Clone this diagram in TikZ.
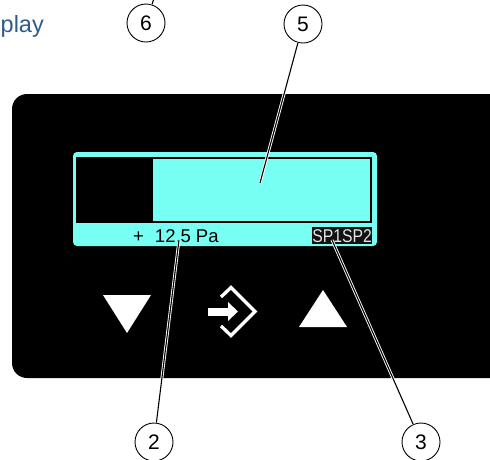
\documentclass[tikz,border=0pt]{standalone}
\usepackage{fontspec}
\setmainfont{Liberation Sans}
\definecolor{lcd}{RGB}{118,255,242}
\definecolor{titleblue}{RGB}{46,92,140}
\definecolor{spgrey}{RGB}{228,228,228}
\begin{document}
\begin{tikzpicture}[x=1pt,y=-1pt,
  callout/.style={circle,draw=black,fill=white,line width=0.9pt,minimum size=38pt,inner sep=0pt,font=\fontsize{21}{21}\selectfont},
  leader/.style={draw=white,double=black,line width=0.9pt,double distance=1.1pt},
  keyshape/.style={fill=white},
  lcdtext/.style={inner sep=0pt,font=\fontsize{18.5}{18.5}\selectfont}]
\useasboundingbox (0,0) rectangle (490,459);
\clip (0,0) rectangle (490,459);
% title fragment
\node[anchor=base west,inner sep=0pt,text=titleblue,font=\fontsize{23.5}{23.5}\selectfont] (title) at (0.5,32) {play};
% panel
\fill[black,rounded corners=15pt] (12,94) rectangle (520,378);
% display
\fill[lcd,rounded corners=4pt] (73,152) rectangle (377,246);
\fill[black] (76,157) rectangle (372,223);
\fill[lcd] (153,159) rectangle (370,221);
\node[lcdtext,anchor=base west] (val) at (133,242.5) {+\hspace{11pt}12.5\hspace{5pt}Pa};
\node[fill=black!93,inner sep=0pt,minimum width=60pt,minimum height=17pt,anchor=north west] (spbox) at (312,227) {};
\node[lcdtext,text=spgrey,xscale=0.85] (sp) at (spbox.center) {SP1SP2};
% keys
\fill[keyshape] (103,295) -- (151,295) -- (127,333) -- cycle;
\fill[keyshape] (299,327) -- (347,327) -- (323,290) -- cycle;
\fill[keyshape] (208,307.5) rectangle (229,315.5);
\fill[keyshape] (228,302) -- (238,311.5) -- (228,321) -- cycle;
\draw[white,line width=3.3pt,miter limit=10] (221,297) -- (231,287.5) -- (255,311.5) -- (231,335.5) -- (221,326);
% callouts
\node[callout] (c6) at (146,23) {6};
\node[callout] (c5) at (303,24) {5};
\node[callout] (c2) at (154,442) {2};
\node[callout] (c3) at (421,442) {3};
\coordinate (p6) at (158,-14);
\coordinate (p5) at (260,183);
\coordinate (p2) at (179,240);
\coordinate (p3) at (332,240);
\draw[leader] (c6) -- (p6);
\draw[leader] (c5) -- (p5);
\draw[leader] (c2) -- (p2);
\draw[leader] (c3) -- (p3);
\end{tikzpicture}
\end{document}
